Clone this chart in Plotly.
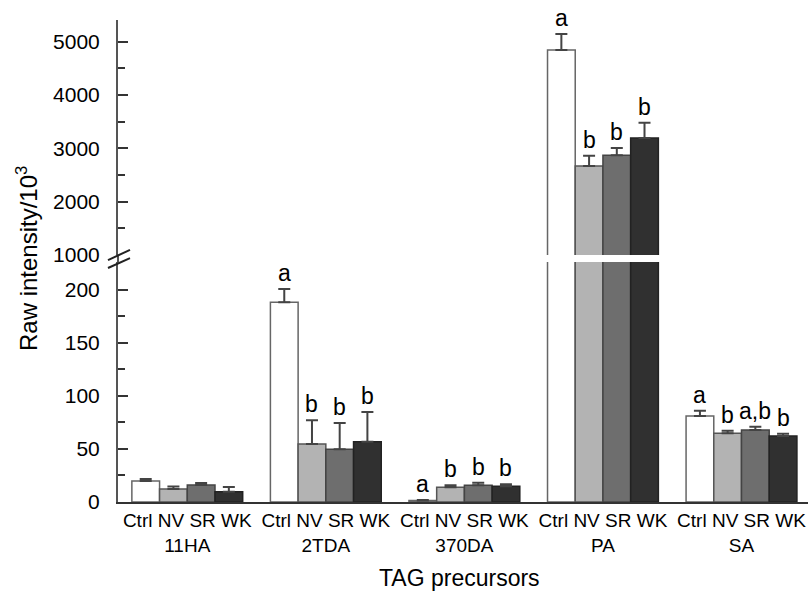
import plotly.graph_objects as go

groups = ["11HA", "2TDA", "370DA", "PA", "SA"]
treatments = ["Ctrl", "NV", "SR", "WK"]

ctrl_vals = [19.8, 188.4, 1.5, 4844, 81]
nv_vals = [12.3, 54.7, 13.9, 2669, 64.8]
sr_vals = [16.0, 49.7, 15.7, 2869, 68]
wk_vals = [9.7, 56.9, 14.8, 3194, 62.3]

ctrl_err = [1.9, 12.5, 0.5, 300, 5]
nv_err = [2.2, 22.3, 1.8, 193, 2.5]
sr_err = [1.9, 24.8, 2.5, 137, 3]
wk_err = [4.4, 28.0, 1.9, 287, 2]

ctrl_letters = ["", "a", "a", "a", "a"]
nv_letters = ["", "b", "b", "b", "b"]
sr_letters = ["", "b", "b", "b", "a,b"]
wk_letters = ["", "b", "b", "b", "b"]

values = [ctrl_vals, nv_vals, sr_vals, wk_vals]
errors = [ctrl_err, nv_err, sr_err, wk_err]
letters = [ctrl_letters, nv_letters, sr_letters, wk_letters]
fills = ["#ffffff", "#b3b3b3", "#6e6e6e", "#303030"]
outlines = ["#666666", "#555555", "#444444", "#222222"]

FONT = "Liberation Sans, Arial, sans-serif"
BREAK_LOW = 1000  # upper panel starts here

fig = go.Figure()
for j, t in enumerate(treatments):
    xs = [g * 5 + j for g in range(len(groups))]
    for ax in ["y", "y2"]:
        fig.add_trace(go.Bar(
            x=xs, y=values[j], width=1, name=t, yaxis=ax, xaxis="x",
            marker=dict(color=fills[j], line=dict(color=outlines[j], width=1.5)),
            error_y=dict(type="data", symmetric=False, array=errors[j],
                         arrayminus=[0] * len(groups), color="#444444",
                         thickness=2, width=6),
            showlegend=False,
        ))

annotations = []
for j in range(len(treatments)):
    for g in range(len(groups)):
        lab = letters[j][g]
        if not lab:
            continue
        top = values[j][g] + errors[j][g]
        annotations.append(dict(
            x=g * 5 + j, y=top, xref="x", yref="y2" if values[j][g] > BREAK_LOW else "y",
            text=lab, showarrow=False, yanchor="bottom", xanchor="center", yshift=1,
            font=dict(family=FONT, size=23, color="black"),
        ))

annotations.append(dict(x=0.495, y=-0.157, xref="paper", yref="paper", text="TAG precursors",
                        showarrow=False, xanchor="center", yanchor="middle",
                        font=dict(family=FONT, size=23, color="black")))
annotations.append(dict(x=-0.132, y=0.506, xref="paper", yref="paper",
                        text="Raw intensity/10<sup>3</sup>", textangle=-90,
                        showarrow=False, xanchor="center", yanchor="middle",
                        font=dict(family=FONT, size=24, color="black")))

tickvals = [g * 5 + 1.5 for g in range(len(groups))]
ticktext = ["Ctrl NV SR WK<br>" + g for g in groups]

axis_common = dict(showline=True, linecolor="#555555", linewidth=2, showgrid=False,
                   zeroline=False, ticks="inside", ticklen=10, tickwidth=2,
                   tickcolor="#333333", ticklabelstandoff=12,
                   tickfont=dict(family=FONT, size=21, color="black"))

fig.update_layout(
    width=808, height=592,
    margin=dict(l=118, r=0, t=20, b=90),
    paper_bgcolor="white", plot_bgcolor="white",
    barmode="overlay",
    xaxis=dict(range=[-1, 23.9], showline=True, linecolor="#333333", linewidth=2,
               showgrid=False, zeroline=False, ticks="", tickvals=tickvals, ticktext=ticktext,
               tickfont=dict(family=FONT, size=19, color="black"), anchor="y"),
    yaxis=dict(domain=[0, 0.498], range=[0, 226.4], tickvals=[0, 50, 100, 150, 200],
               minor=dict(ticks="inside", ticklen=7, tickvals=[25, 75, 125, 175],
                          tickcolor="#333333", tickwidth=2),
               anchor="x", **axis_common),
    yaxis2=dict(domain=[0.5124, 1], range=[1000, 5406],
                tickvals=[1000, 2000, 3000, 4000, 5000],
                minor=dict(ticks="inside", ticklen=7, tickvals=[1500, 2500, 3500, 4500],
                           tickcolor="#333333", tickwidth=2),
                anchor="x", **axis_common),
    annotations=annotations,
    shapes=[
        dict(type="line", xref="paper", yref="paper", x0=0, x1=0, y0=0.497, y1=0.513,
             line=dict(color="#555555", width=2)),
        dict(type="line", xref="paper", yref="paper", x0=-0.0145, y0=0.502, x1=0.0174, y1=0.523,
             line=dict(color="#222222", width=2)),
        dict(type="line", xref="paper", yref="paper", x0=-0.0145, y0=0.4855, x1=0.0174, y1=0.506,
             line=dict(color="#222222", width=2)),
    ],
)

fig.write_html("out.html")
